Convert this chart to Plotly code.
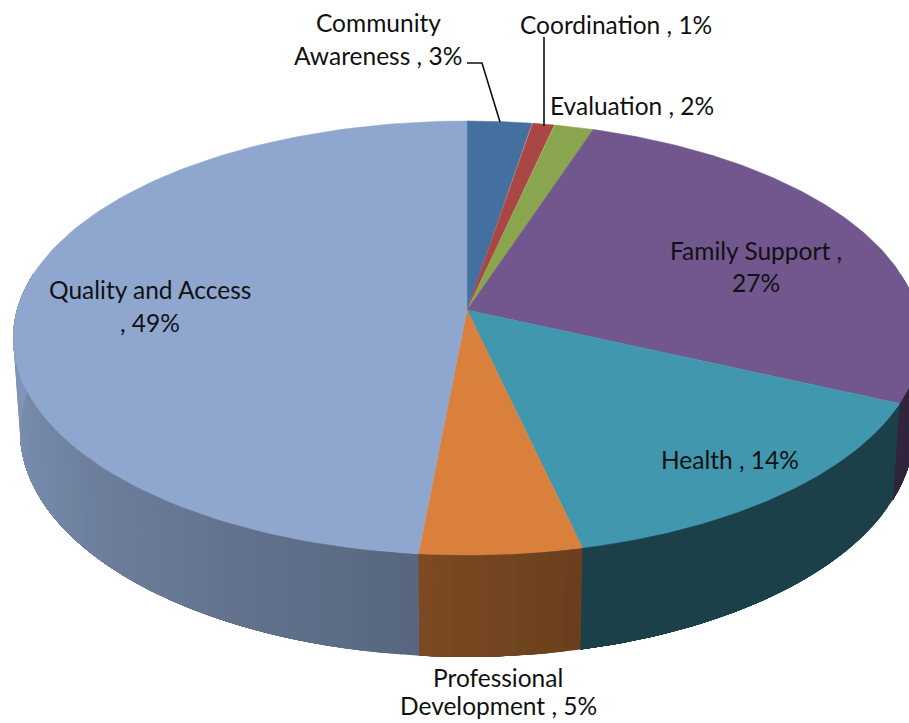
import numpy as np
import plotly.graph_objects as go

categories = ["Community Awareness", "Coordination", "Evaluation", "Family Support",
              "Health", "Professional Development", "Quality and Access"]
values = [2.6, 0.9, 1.6, 26.7, 14.6, 5.1, 48.5]
colors = ["#44709F", "#AA4643", "#89A54E", "#72568E", "#4197AE", "#D9813C", "#8FA7CE"]

label_lines = [
    ["Community", 378, 22], ["Awareness , 3%", 378, 55],
    ["Coordination , 1%", 616, 24],
    ["Evaluation , 2%", 632, 105],
    ["Family Support ,", 756, 250], ["27%", 756, 282],
    ["Health , 14%", 730, 459],
    ["Professional", 498, 677], ["Development , 5%", 498, 705],
    ["Quality and Access", 150, 289], [", 49%", 150, 322],
]

# projection of the tilted disc (perspective camera of the 3-D pie)
CX, CY, A, B, K = 467.0, 310.0, 450.0, 213.4, 0.129
H, E = 94.0, 0.015


def top(th):
    u, v = np.sin(th), np.cos(th)
    w = 1 + K * v
    return CX + A * u / w, CY - B * v / w


def bottom(th):
    u, v = np.sin(th), np.cos(th)
    w = 1 + K * v + E
    return CX + A * u / w, CY + (H - B * v) / w


def shade(hex_color, f):
    r, g, b = [int(hex_color[i:i + 2], 16) for i in (1, 3, 5)]
    return f"rgb({int(r * f)},{int(g * f)},{int(b * f)})"


def wall_factor(name, deg):
    if name == "Quality and Access":
        return np.interp(deg, [186, 270], [0.62, 0.90])
    if name == "Professional Development":
        return np.interp(deg, [167, 186], [0.49, 0.58])
    return 0.43


edges = np.radians(np.cumsum([0] + values) / sum(values) * 360)
fig = go.Figure()


def poly(x, y, color, width=0.0):
    fig.add_trace(go.Scatter(x=x, y=y, mode="lines", fill="toself", fillcolor=color,
                             line=dict(color=color, width=width), hoverinfo="skip",
                             showlegend=False))


# side walls: each shaded strip runs to the end of its slice and the next one
# paints over it, so no seams appear between strips
STEP = np.radians(2.0)
for i, name in enumerate(categories):
    a0, a1 = edges[i], edges[i + 1]
    lo, hi = max(a0, np.radians(80)), min(a1, np.radians(280))
    if hi <= lo:
        continue
    n = max(1, int(np.ceil((hi - lo) / STEP)))
    ticks = np.linspace(lo, hi, n + 1)
    for t0, t1 in zip(ticks[:-1], ticks[1:]):
        f = wall_factor(name, np.degrees((t0 + t1) / 2))
        sub = np.linspace(t0, hi, 40)
        xt, yt = top(sub)
        xb, yb = bottom(sub[::-1])
        poly(np.r_[xt, xb, xt[0]], np.r_[yt, yb, yt[0]], shade(colors[i], f))

# top faces
for i, name in enumerate(categories):
    arc = np.linspace(edges[i], edges[i + 1], 120)
    xa, ya = top(arc)
    poly(np.r_[CX, xa, CX], np.r_[CY, ya, CY], colors[i], 0.5)

for text, x, y in label_lines:
    fig.add_annotation(x=x, y=y, xref="x", yref="y", text=text, showarrow=False,
                       font=dict(family="Lato", size=24.5, color="#111111"),
                       xanchor="center", yanchor="middle")

for xs, ys in [([467, 482, 500], [63, 63, 122]), ([544, 544], [37, 126])]:
    fig.add_trace(go.Scatter(x=xs, y=ys, mode="lines", line=dict(color="#111111", width=1.6),
                             hoverinfo="skip", showlegend=False))

fig.update_xaxes(range=[0, 909], visible=False, fixedrange=True)
fig.update_yaxes(range=[723, 0], visible=False, fixedrange=True)
fig.update_layout(width=909, height=723, margin=dict(l=0, r=0, t=0, b=0),
                  paper_bgcolor="white", plot_bgcolor="white", showlegend=False)
fig.write_html("out.html", config={"displayModeBar": False},
               post_script="document.body.style.margin='0';document.documentElement.style.overflow='hidden';")
